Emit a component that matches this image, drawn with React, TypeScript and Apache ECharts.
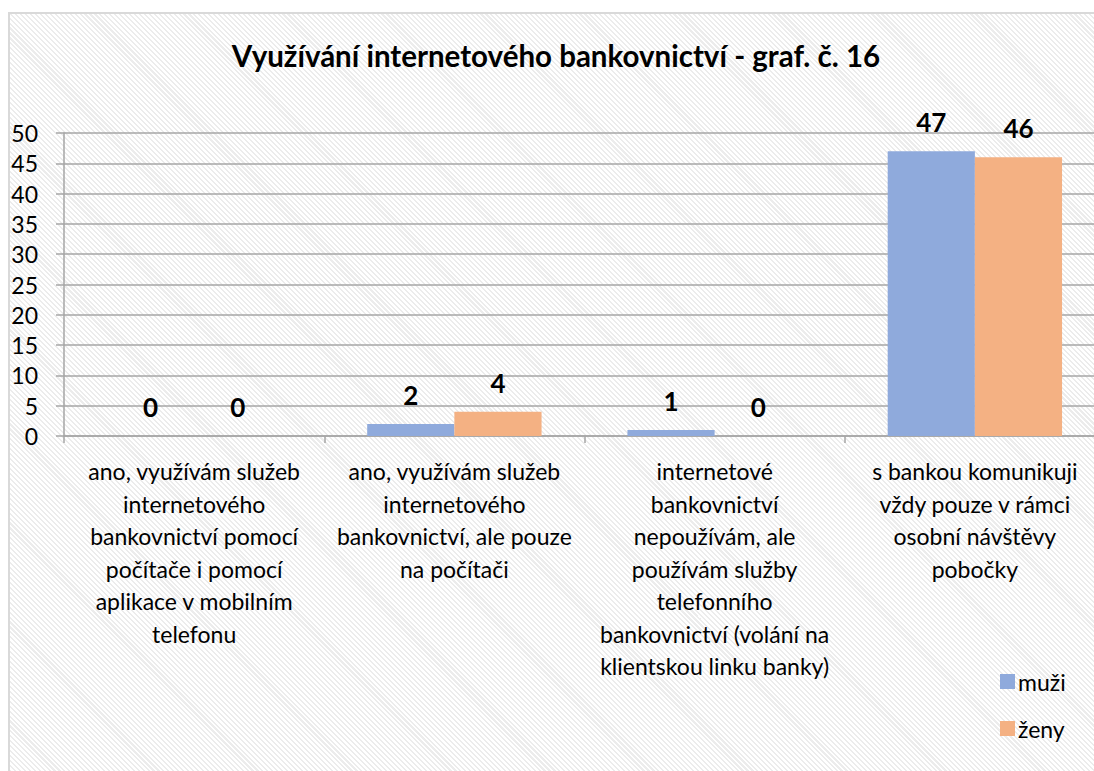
import React, { useEffect, useRef } from "react";
import * as echarts from "echarts";

const titleText = "Využívání internetového bankovnictví - graf. č. 16";
const categories = [
  "ano, využívám služeb\ninternetového\nbankovnictví pomocí\npočítače i pomocí\naplikace v mobilním\ntelefonu",
  "ano, využívám služeb\ninternetového\nbankovnictví, ale pouze\nna počítači",
  "internetové\nbankovnictví\nnepoužívám, ale\npoužívám služby\ntelefonního\nbankovnictví (volání na\nklientskou linku banky)",
  "s bankou komunikuji\nvždy pouze v rámci\nosobní návštěvy\npobočky",
];
const seriesNames = ["muži", "ženy"];
const muzi = [0, 2, 1, 47];
const zeny = [0, 4, 0, 46];
const yMin = 0;
const yMax = 50;
const yInterval = 5;

const FONT = "Lato, 'Noto Sans', sans-serif";

export default function App() {
  const ref = useRef<HTMLDivElement>(null);
  useEffect(() => {
    if (!ref.current) return;
    const chart = echarts.init(ref.current, null, { renderer: "svg" });
    const label = {
      show: true,
      position: "top",
      distance: 16,
      fontFamily: FONT,
      fontWeight: "bold",
      fontSize: 26,
      color: "#000",
    };
    chart.setOption({
      animation: false,
      backgroundColor: "transparent",
      textStyle: { fontFamily: FONT },
      title: {
        text: titleText,
        left: 551,
        textAlign: "center",
        top: 35,
        textStyle: { fontFamily: FONT, fontWeight: "bold", fontSize: 29.5, color: "#000" },
      },
      legend: {
        orient: "vertical",
        left: 995,
        top: 665,
        itemWidth: 15,
        itemHeight: 15,
        itemGap: 24,
        icon: "rect",
        textStyle: { fontFamily: FONT, fontSize: 23, color: "#000", padding: [0, 0, 0, -2] },
        data: seriesNames,
      },
      grid: { left: 64, right: 0, top: 133, bottom: 335, containLabel: false },
      xAxis: {
        type: "category",
        data: categories,
        axisLine: { show: true, lineStyle: { color: "#a6a6a6", width: 1.5 } },
        axisTick: { show: true, length: 7, alignWithLabel: false, lineStyle: { color: "#a6a6a6", width: 1.5 } },
        axisLabel: {
          interval: 0,
          margin: 19,
          fontFamily: FONT,
          fontSize: 23,
          lineHeight: 32.5,
          color: "#000",
          align: "center",
        },
      },
      yAxis: {
        type: "value",
        min: yMin,
        max: yMax,
        interval: yInterval,
        axisLine: { show: true, lineStyle: { color: "#a6a6a6", width: 1.5 } },
        axisTick: { show: true, length: 8, lineStyle: { color: "#a6a6a6", width: 1.5 } },
        splitLine: { show: true, lineStyle: { color: "#a6a6a6", width: 1.5 } },
        axisLabel: { margin: 26, fontFamily: FONT, fontSize: 23, color: "#000" },
      },
      series: [
        {
          name: seriesNames[0],
          type: "bar",
          data: muzi,
          barGap: "0%",
          barCategoryGap: "33%",
          itemStyle: { color: "#8faadc" },
          label,
        },
        {
          name: seriesNames[1],
          type: "bar",
          data: zeny,
          barGap: "0%",
          barCategoryGap: "33%",
          itemStyle: { color: "#f4b183" },
          label,
        },
      ],
    });
    return () => chart.dispose();
  }, []);

  return (
    <div
      style={{
        position: "fixed",
        left: 0,
        top: 0,
        width: 1094,
        height: 771,
        overflow: "hidden",
        background: "#fff",
      }}
    >
      <div
        style={{
          position: "absolute",
          left: 8,
          top: 12,
          width: 1120,
          height: 800,
          border: "2px solid #d9d9d9",
          background:
            "repeating-linear-gradient(45deg, #ffffff 0px, #ffffff 2px, #ececec 2px, #ececec 3.5px)",
        }}
      />
      <div ref={ref} style={{ position: "absolute", left: 0, top: 0, width: 1105, height: 771 }} />
    </div>
  );
}
